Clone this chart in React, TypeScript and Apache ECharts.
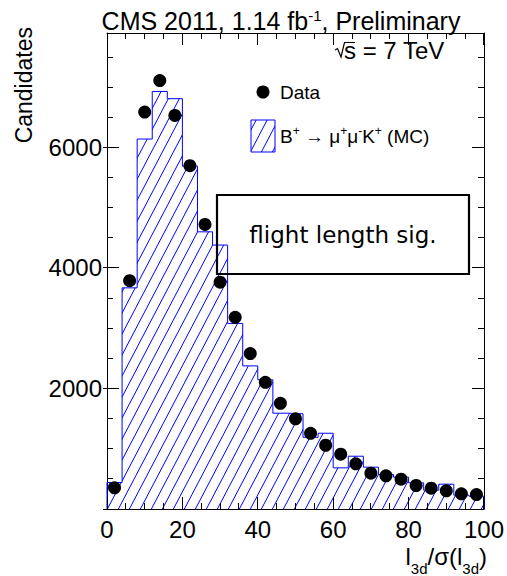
import React, { useEffect, useRef } from "react";
import * as echarts from "echarts";

// Bin low edges (width 4) and MC histogram contents
const binLowEdges = [0, 4, 8, 12, 16, 20, 24, 28, 32, 36, 40, 44, 48, 52, 56, 60, 64, 68, 72, 76, 80, 84, 88, 92, 96];
const binUpperEnd = 100;
const mcCounts = [440, 3670, 6140, 6930, 6810, 5690, 4600, 4380, 3080, 2375, 2145, 1590, 1580, 1190, 1257, 683, 876, 694, 572, 528, 434, 312, 412, 229, 212];

// Data points at bin centres
const dataCenters = [2, 6, 10, 14, 18, 22, 26, 30, 34, 38, 42, 46, 50, 54, 58, 62, 66, 70, 74, 78, 82, 86, 90, 94, 98];
const dataCounts = [351, 3789, 6587, 7111, 6531, 5697, 4723, 3765, 3181, 2579, 2103, 1755, 1496, 1257, 1058, 909, 750, 594, 551, 494, 390, 345, 302, 252, 240];

// Tick labels and tick positions
const xTickLabels = ["0", "20", "40", "60", "80", "100"];
const yTickLabels = ["2000", "4000", "6000"];
const xMajorTicks = [0, 20, 40, 60, 80, 100];
const xMinorTicks = [5, 10, 15, 25, 30, 35, 45, 50, 55, 65, 70, 75, 85, 90, 95];
const yMajorTicks = [0, 2000, 4000, 6000];
const yMinorTicks = [500, 1000, 1500, 2500, 3000, 3500, 4500, 5000, 5500, 6500, 7000, 7500];

const BLUE = "#0000ff";
const FONT = "Liberation Sans";

const hatchSvg =
  '<svg xmlns="http://www.w3.org/2000/svg" width="11" height="21">' +
  '<path d="M-1.1 23.1 L12.1 -2.1 M-12.1 23.1 L1.1 -2.1 M9.9 23.1 L23.1 -2.1" stroke="' +
  BLUE +
  '" stroke-width="1" fill="none"/></svg>';
const hatchUrl = "data:image/svg+xml;charset=utf-8," + encodeURIComponent(hatchSvg);
const hatch = () => ({ image: hatchUrl, repeat: "repeat", imageWidth: 11, imageHeight: 21 } as any);

type Seg = { t: string; size: number; dy: number };

let measureCtx: CanvasRenderingContext2D | null = null;
function measure(t: string, size: number): number {
  if (!measureCtx) measureCtx = document.createElement("canvas").getContext("2d");
  if (!measureCtx) return t.length * size * 0.55;
  measureCtx.font = `${size}px "${FONT}"`;
  return measureCtx.measureText(t).width;
}

function pieces(segs: Seg[], anchorX: number, y: number, align: "left" | "center" | "right") {
  const widths = segs.map((s) => measure(s.t, s.size));
  const total = widths.reduce((a, b) => a + b, 0);
  let x = align === "left" ? anchorX : align === "center" ? anchorX - total / 2 : anchorX - total;
  const out: any[] = [];
  segs.forEach((s, i) => {
    out.push({
      type: "text",
      x,
      y: y + s.dy,
      style: { text: s.t, fontFamily: FONT, fontSize: s.size, fill: "#000", align: "left", verticalAlign: "middle" },
    });
    x += widths[i];
  });
  return out;
}

const crisp = (v: number) => Math.floor(v) + 0.5;

const tickStyle = { stroke: "#000", lineWidth: 1 };

// vertical ticks on bottom and top frame lines
const xTickSeries = (ticks: number[], len: number) => ({
  type: "custom",
  data: ticks.map((v) => [v, 0]),
  clip: false,
  silent: true,
  z: 20,
  renderItem: (params: any, api: any) => {
    const cs = params.coordSys;
    const x = crisp(api.coord([api.value(0), 0])[0]);
    const top = cs.y;
    const bottom = cs.y + cs.height;
    return {
      type: "group",
      children: [
        { type: "line", shape: { x1: x, y1: bottom, x2: x, y2: bottom - len }, style: tickStyle },
        { type: "line", shape: { x1: x, y1: top, x2: x, y2: top + len }, style: tickStyle },
      ],
    };
  },
});

// horizontal ticks on left and right frame lines
const yTickSeries = (ticks: number[], len: number, outward: number) => ({
  type: "custom",
  data: ticks.map((v) => [0, v]),
  clip: false,
  silent: true,
  z: 20,
  renderItem: (params: any, api: any) => {
    const cs = params.coordSys;
    const y = crisp(api.coord([0, api.value(1)])[1]);
    const left = cs.x;
    const right = cs.x + cs.width;
    return {
      type: "group",
      children: [
        { type: "line", shape: { x1: left - outward, y1: y, x2: left + len, y2: y }, style: tickStyle },
        { type: "line", shape: { x1: right, y1: y, x2: right - len, y2: y }, style: tickStyle },
      ],
    };
  },
});

export default function App() {
  const ref = useRef<HTMLDivElement>(null);

  useEffect(() => {
    if (!ref.current) return;
    const chart = echarts.init(ref.current, undefined, { renderer: "svg" });

    const histData: number[][] = [[binLowEdges[0], 0]];
    binLowEdges.forEach((x, i) => histData.push([x, mcCounts[i]]));
    histData.push([binUpperEnd, mcCounts[mcCounts.length - 1]]);
    histData.push([binUpperEnd, 0]);

    const pts = dataCenters.map((x, i) => [x, dataCounts[i]]);

    const yLabelFmt = (v: number) => (yTickLabels.indexOf(String(v)) >= 0 ? String(v) : "");
    const xLabelFmt = (v: number) => (xTickLabels.indexOf(String(v)) >= 0 ? String(v) : "");

    const titlePieces = pieces(
      [
        { t: "CMS 2011, 1.14 fb", size: 25, dy: 0 },
        { t: "-1", size: 15, dy: -6 },
        { t: ", Preliminary", size: 25, dy: 0 },
      ],
      281,
      21,
      "center"
    );

    const legendPieces = pieces(
      [
        { t: "B", size: 19, dy: 0 },
        { t: "+", size: 12, dy: -5 },
        { t: " → μ", size: 19, dy: 0 },
        { t: "+", size: 12, dy: -5 },
        { t: "μ", size: 19, dy: 0 },
        { t: "-", size: 12, dy: -5 },
        { t: "K", size: 19, dy: 0 },
        { t: "+", size: 12, dy: -5 },
        { t: " (MC)", size: 19, dy: 0 },
      ],
      280,
      136,
      "left"
    );

    const xTitlePieces = pieces(
      [
        { t: "l", size: 24, dy: 0 },
        { t: "3d", size: 15, dy: 12 },
        { t: "/σ(l", size: 24, dy: 0 },
        { t: "3d", size: 15, dy: 12 },
        { t: ")", size: 24, dy: 0 },
      ],
      487,
      556.5,
      "right"
    );

    chart.setOption({
      animation: false,
      grid: { left: 107, right: 20, top: 33, bottom: 67 },
      xAxis: [
        {
          type: "value",
          position: "bottom",
          min: 0,
          max: 100,
          interval: 20,
          splitLine: { show: false },
          axisLine: { show: true, onZero: false, lineStyle: { color: "#000", width: 1 } },
          axisTick: { show: false },
          axisLabel: { formatter: xLabelFmt, fontFamily: FONT, fontSize: 24, color: "#000", margin: 8 },
        },
        {
          type: "value",
          position: "top",
          min: 0,
          max: 100,
          interval: 20,
          splitLine: { show: false },
          axisLine: { show: true, onZero: false, lineStyle: { color: "#000", width: 1 } },
          axisTick: { show: false },
          axisLabel: { show: false },
        },
      ],
      yAxis: [
        {
          type: "value",
          position: "left",
          min: 0,
          max: 7900,
          interval: 2000,
          splitLine: { show: false },
          axisLine: { show: true, onZero: false, lineStyle: { color: "#000", width: 1 } },
          axisTick: { show: false },
          axisLabel: { formatter: yLabelFmt, fontFamily: FONT, fontSize: 24, color: "#000", margin: 5 },
        },
        {
          type: "value",
          position: "right",
          min: 0,
          max: 7900,
          interval: 2000,
          splitLine: { show: false },
          axisLine: { show: true, onZero: false, lineStyle: { color: "#000", width: 1 } },
          axisTick: { show: false },
          axisLabel: { show: false },
        },
      ],
      series: [
        {
          type: "line",
          name: "MC",
          data: histData,
          step: "end",
          showSymbol: false,
          symbol: "none",
          lineStyle: { color: BLUE, width: 1 },
          areaStyle: { color: hatch(), opacity: 1 },
          z: 2,
        },
        {
          type: "scatter",
          name: "Data",
          data: pts,
          symbol: "circle",
          symbolSize: 13,
          itemStyle: { color: "#000", opacity: 1 },
          z: 5,
        },
        xTickSeries(xMajorTicks, 12),
        xTickSeries(xMinorTicks, 6),
        yTickSeries(yMajorTicks, 12, 4),
        yTickSeries(yMinorTicks, 6, 0),
      ],
      graphic: [
        ...titlePieces,
        {
          type: "polyline",
          shape: { points: [[335, 50], [337.5, 48.5], [341, 57], [344.5, 42.5], [355, 42.5]] },
          style: { stroke: "#000", lineWidth: 1.2, fill: "none" },
        },
        {
          type: "text",
          x: 344,
          y: 50,
          style: { text: "s = 7 TeV", fontFamily: FONT, fontSize: 24, fill: "#000", align: "left", verticalAlign: "middle" },
        },
        { type: "circle", shape: { cx: 263, cy: 92, r: 6.5 }, style: { fill: "#000" } },
        {
          type: "text",
          x: 280,
          y: 92,
          style: { text: "Data", fontFamily: FONT, fontSize: 19, fill: "#000", align: "left", verticalAlign: "middle" },
        },
        {
          type: "rect",
          shape: { x: 251, y: 120, width: 24, height: 32 },
          style: { fill: hatch(), stroke: BLUE, lineWidth: 1 },
        },
        ...legendPieces,
        {
          type: "rect",
          shape: { x: 217, y: 195, width: 252, height: 79 },
          style: { fill: "none", stroke: "#000", lineWidth: 2.2 },
          z: 10,
        },
        {
          type: "text",
          x: 343,
          y: 235,
          style: {
            text: "flight length sig.",
            fontFamily: "DejaVu Sans",
            fontSize: 23,
            fill: "#000",
            align: "center",
            verticalAlign: "middle",
          },
          z: 10,
        },
        {
          type: "text",
          x: 24,
          y: 27,
          rotation: Math.PI / 2,
          style: { text: "Candidates", fontFamily: FONT, fontSize: 23, fill: "#000", align: "right", verticalAlign: "middle" },
        },
        ...xTitlePieces,
      ],
    });

    return () => chart.dispose();
  }, []);

  return (
    <div
      ref={ref}
      style={{ position: "absolute", left: 0, top: 0, width: 507, height: 576, background: "#fff" }}
    />
  );
}
